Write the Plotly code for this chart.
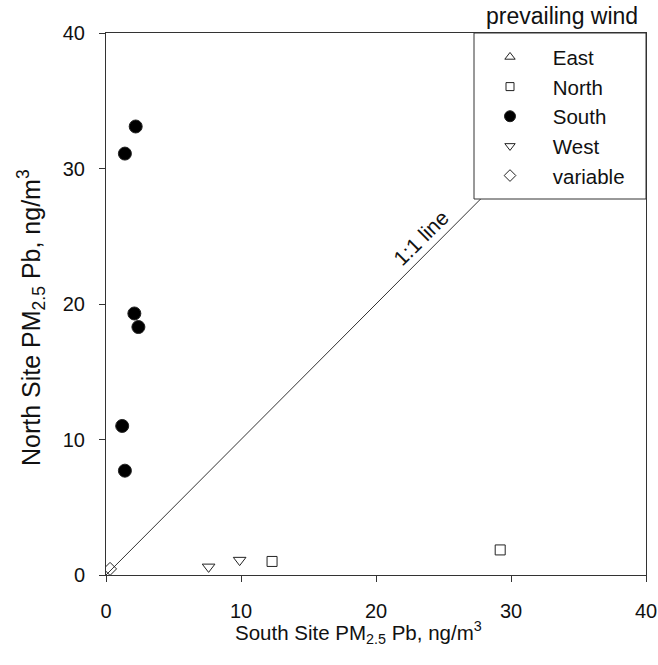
import plotly.graph_objects as go

# South Site vs North Site PM2.5 lead, grouped by prevailing wind
categories = ["East", "North", "South", "West", "variable"]
east_x, east_y = [], []
north_x = [12.3, 29.2]
north_y = [1.0, 1.85]
south_x = [2.2, 1.4, 2.1, 2.4, 1.2, 1.4]
south_y = [33.1, 31.1, 19.3, 18.3, 11.0, 7.7]
west_x = [7.6, 9.9]
west_y = [0.6, 1.1]
variable_x = [0.3]
variable_y = [0.45]

one_to_one = [0, 40]
ticks = [0, 10, 20, 30, 40]

FONT = "Arial, Liberation Sans, sans-serif"
INK = "#111111"
AXIS = "#333333"

fig = go.Figure()

fig.add_trace(go.Scatter(
    x=one_to_one, y=one_to_one, mode="lines",
    line=dict(color="#333333", width=1), showlegend=False, hoverinfo="skip"))

# (name, x, y, symbol, size on plot, size in legend)
series = [
    (categories[0], east_x, east_y, "triangle-up-open", 11, 9),
    (categories[1], north_x, north_y, "square-open", 10, 8),
    (categories[2], south_x, south_y, "circle", 13, 11),
    (categories[3], west_x, west_y, "triangle-down-open", 11, 9),
    (categories[4], variable_x, variable_y, "diamond-open", 10, 9),
]
for name, xs, ys, sym, size, lsize in series:
    filled = not sym.endswith("open")
    color = "#000000" if filled else "#222222"
    if xs:
        fig.add_trace(go.Scatter(
            x=xs, y=ys, mode="markers", name=name, showlegend=False,
            legendgroup=name,
            marker=dict(symbol=sym, size=size, color=color,
                        line=dict(width=1, color="#222222"))))
    # legend entry with a smaller symbol
    fig.add_trace(go.Scatter(
        x=[None], y=[None], mode="markers", legendgroup=name,
        name="\u00a0\u00a0\u00a0\u00a0" + name,
        marker=dict(symbol=sym, size=lsize, color=color,
                    line=dict(width=1, color="#222222"))))

fig.add_annotation(
    x=23.35, y=24.9, xref="x", yref="y", text="1:1 line", textangle=-45,
    showarrow=False, font=dict(family=FONT, size=21, color=INK))

fig.add_annotation(
    x=(562 - 106) / 540, y=1, xref="paper", yref="paper",
    xanchor="center", yanchor="bottom", yshift=2, text="prevailing wind",
    showarrow=False, font=dict(family=FONT, size=23, color=INK))

# axis titles
fig.add_annotation(
    x=(233 - 106) / 540, y=-0.107, xref="paper", yref="paper",
    xanchor="left", yanchor="middle",
    text="South Site PM<sub>2.5</sub> Pb, ng/m<sup>3</sup>",
    showarrow=False, font=dict(family=FONT, size=20.5, color=INK))
fig.add_annotation(
    x=(31 - 106) / 540, y=(575 - 318) / 542, xref="paper", yref="paper",
    xanchor="center", yanchor="middle", textangle=-90,
    text="North Site PM<sub>2.5</sub> Pb, ng/m<sup>3</sup>",
    showarrow=False, font=dict(family=FONT, size=25, color=INK))

# legend frame, also hides the 1:1 line behind it
fig.add_shape(type="rect", xref="paper", yref="paper",
              x0=(474 - 106) / 540, x1=1.0, y0=(575 - 199) / 542, y1=1.0,
              layer="above", fillcolor="white", line=dict(color=AXIS, width=1))

axis_common = dict(
    range=[0, 40], tickvals=ticks, ticks="outside", ticklen=6, tickwidth=1,
    tickcolor=AXIS, showline=True, linecolor=AXIS, linewidth=1, mirror=True,
    showgrid=False, zeroline=False,
    tickfont=dict(family=FONT, size=20, color=INK))

fig.update_xaxes(ticklabelstandoff=12, **axis_common)
fig.update_yaxes(ticklabelstandoff=10, **axis_common)

fig.update_layout(
    width=658, height=665,
    margin=dict(l=106, r=12, t=33, b=90, autoexpand=False),
    paper_bgcolor="white", plot_bgcolor="white",
    font=dict(family=FONT, color=INK),
    showlegend=True,
    legend=dict(x=(490 - 106) / 540, y=0.9924, xanchor="left", yanchor="top",
                bgcolor="rgba(0,0,0,0)", borderwidth=0,
                font=dict(family=FONT, size=20.5, color=INK),
                tracegroupgap=0, traceorder="normal"),
)

fig.write_html("out.html")
